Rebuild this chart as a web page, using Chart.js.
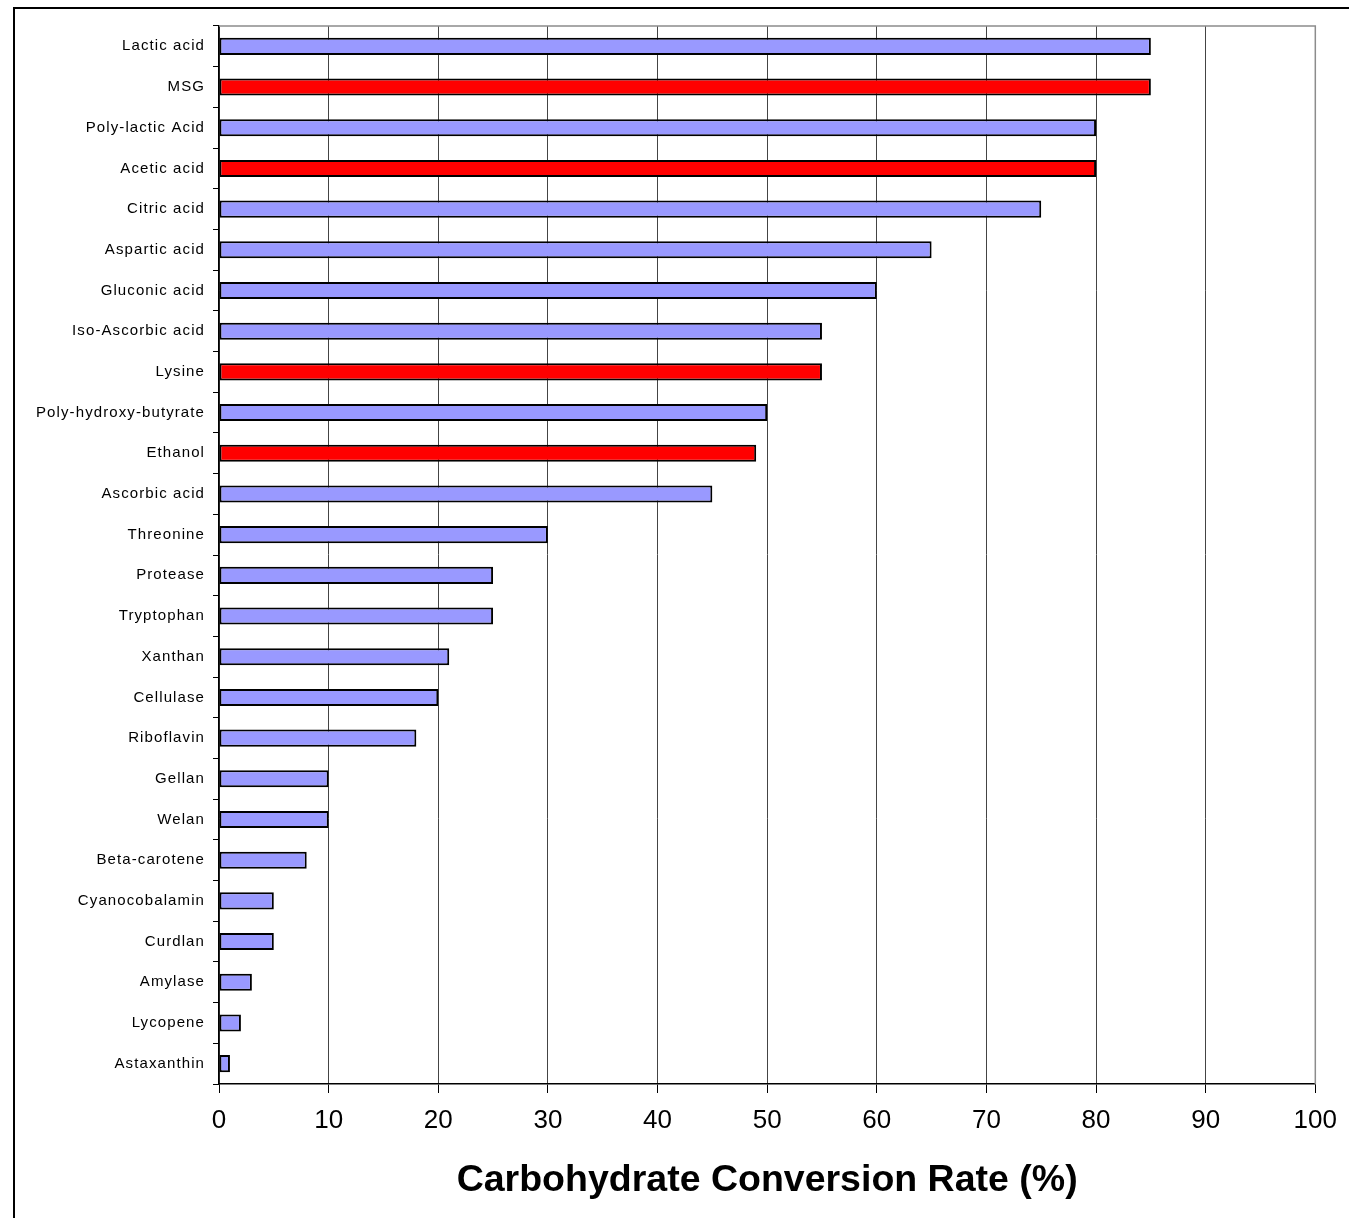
<!DOCTYPE html>
<html>
<head>
<meta charset="utf-8">
<script src="https://cdn.jsdelivr.net/npm/chart.js@4.4.1/dist/chart.umd.min.js"></script>
<style>
  html, body { margin: 0; padding: 0; background: #fff; overflow: hidden; }
  #wrap { position: relative; width: 1349px; height: 1218px; }
  #frame { position: absolute; left: 13px; top: 7px; width: 1400px; height: 1300px; border: 2px solid #000; box-sizing: border-box; pointer-events: none; }
  canvas { position: absolute; left: 0; top: 0; }
</style>
</head>
<body>
<div id="wrap">
  <canvas id="c" width="1349" height="1218"></canvas>
  <div id="frame"></div>
</div>
<script>
// Products made by fermentation, with their carbohydrate conversion rate (%)
const products = [
  "Lactic acid", "MSG", "Poly-lactic Acid", "Acetic acid", "Citric acid",
  "Aspartic acid", "Gluconic acid", "Iso-Ascorbic acid", "Lysine",
  "Poly-hydroxy-butyrate", "Ethanol", "Ascorbic acid", "Threonine",
  "Protease", "Tryptophan", "Xanthan", "Cellulase", "Riboflavin", "Gellan",
  "Welan", "Beta-carotene", "Cyanocobalamin", "Curdlan", "Amylase",
  "Lycopene", "Astaxanthin"
];
const conversionRate = [
  85, 85, 80, 80, 75, 65, 60, 55, 55, 50, 49, 45, 30,
  25, 25, 21, 20, 18, 10, 10, 8, 5, 5, 3, 2, 1
];
// Products highlighted in red
const highlighted = ["MSG", "Acetic acid", "Lysine", "Ethanol"];
const xTicks = [0, 10, 20, 30, 40, 50, 60, 70, 80, 90, 100];
const axisTitle = "Carbohydrate Conversion Rate (%)";

const BLUE = "#9999FF", RED = "#FF0000";
const FONT = "'Liberation Sans', Arial, sans-serif";
const barColors = products.map(p => highlighted.includes(p) ? RED : BLUE);

// Gray outline on the top and right sides of the plot area
const plotFrame = {
  id: "plotFrame",
  afterDatasetsDraw(chart) {
    const { ctx, chartArea: a } = chart;
    ctx.save();
    ctx.strokeStyle = "#8c8c8c";
    ctx.lineWidth = 1.5;
    ctx.beginPath();
    ctx.moveTo(a.left, a.top);
    ctx.lineTo(a.right, a.top);
    ctx.lineTo(a.right, a.bottom);
    ctx.stroke();
    ctx.restore();
  }
};

new Chart(document.getElementById("c"), {
  type: "bar",
  data: {
    labels: products,
    datasets: [{
      data: conversionRate,
      backgroundColor: barColors,
      borderColor: "#000",
      borderWidth: 2,
      borderSkipped: false,
      barPercentage: 0.42,
      categoryPercentage: 1.0
    }]
  },
  options: {
    indexAxis: "y",
    responsive: false,
    animation: false,
    layout: { padding: { top: 26, right: 32, left: 0, bottom: 0 } },
    plugins: { legend: { display: false }, tooltip: { enabled: false } },
    scales: {
      x: {
        min: 0, max: 100,
        afterBuildTicks(scale) { scale.ticks = xTicks.map(v => ({ value: v })); },
        afterFit(scale) { scale.height = 1218 - 1084; },
        grid: { color: "#444", lineWidth: 1, tickLength: 9, tickColor: "#000" },
        border: { color: "#000", width: 1.5 },
        ticks: {
          color: "#000", padding: 12,
          font: { family: FONT, size: 26 }
        },
        title: {
          display: true, text: axisTitle, color: "#000",
          padding: { top: 0, bottom: 15 },
          font: { family: FONT, size: 37.5, weight: "bold" }
        }
      },
      y: {
        afterFit(scale) {
          scale.width = 219;
          // widen the spacing of the category labels a little
          if (!scale._spacedLabels) {
            const drawLabels = scale.drawLabels.bind(scale);
            scale.drawLabels = function (area) {
              const c = this.ctx;
              c.save();
              c.letterSpacing = "1.1px";
              drawLabels(area);
              c.restore();
            };
            scale._spacedLabels = true;
          }
        },
        grid: { offset: true, drawOnChartArea: false, tickLength: 6, tickColor: "#000" },
        border: { color: "#000", width: 1.5 },
        ticks: {
          color: "#000", padding: 8, autoSkip: false,
          font: { family: FONT, size: 15 }
        }
      }
    }
  },
  plugins: [plotFrame]
});
</script>
</body>
</html>
